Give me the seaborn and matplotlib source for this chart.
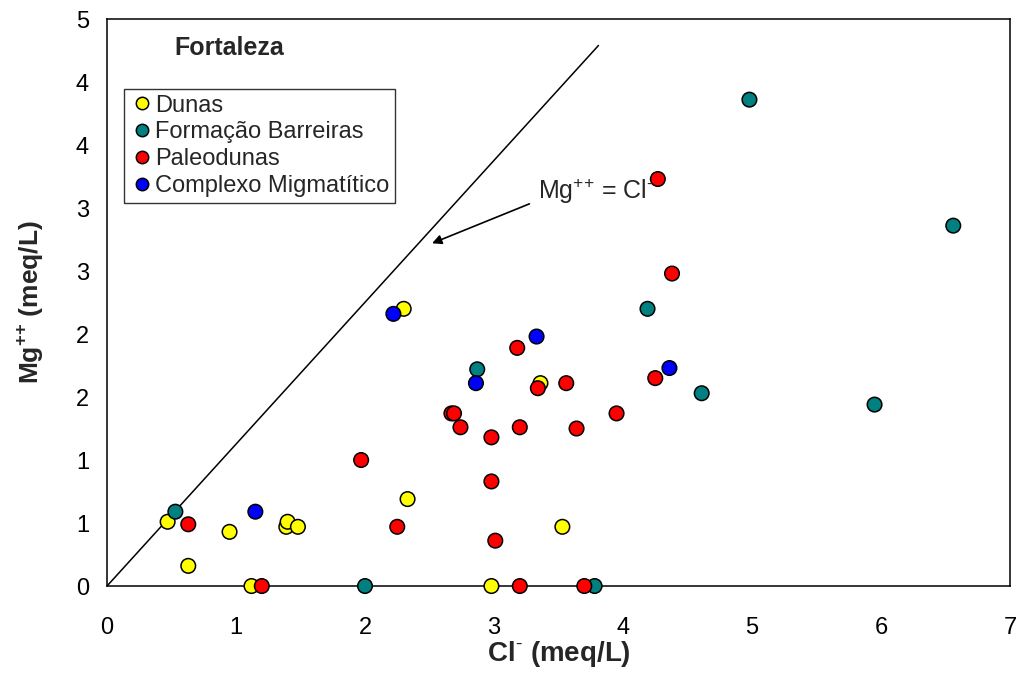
import pandas as pd
import matplotlib
matplotlib.use("Agg")
import matplotlib.pyplot as plt
import seaborn as sns

# values (Cl- vs Mg++, meq/L)
dunas_cl = [0.47, 0.63, 0.95, 1.12, 1.39, 1.40, 1.48, 2.30, 2.33, 2.98, 3.36, 3.53]
dunas_mg = [0.51, 0.16, 0.43, 0.0, 0.47, 0.51, 0.47, 2.20, 0.69, 0.0, 1.61, 0.47]

barreiras_cl = [0.53, 2.00, 2.87, 3.78, 4.19, 4.61, 4.98, 5.95, 6.56]
barreiras_mg = [0.59, 0.0, 1.72, 0.0, 2.20, 1.53, 3.86, 1.44, 2.86]

paleo_cl = [0.63, 1.20, 1.97, 2.25, 2.67, 2.69, 2.74, 2.98, 2.98, 3.01, 3.18, 3.20,
            3.20, 3.34, 3.56, 3.64, 3.70, 3.95, 4.25, 4.27, 4.38]
paleo_mg = [0.49, 0.0, 1.0, 0.47, 1.37, 1.37, 1.26, 1.18, 0.83, 0.36, 1.89, 1.26,
            0.0, 1.57, 1.61, 1.25, 0.0, 1.37, 1.65, 3.23, 2.48]

migma_cl = [1.15, 2.22, 2.86, 3.33, 4.36]
migma_mg = [0.59, 2.16, 1.61, 1.98, 1.73]

groups = ["Dunas", "Formação Barreiras", "Paleodunas", "Complexo Migmatítico"]
colors = ["#FFFF00", "#008080", "#FF0000", "#0000FF"]

y_ticks = [0, 0.5, 1, 1.5, 2, 2.5, 3, 3.5, 4, 4.5]
y_tick_labels = ["0", "1", "1", "2", "2", "3", "3", "4", "4", "5"]

# reference line drawn in the original
line_x = [0, 3.81]
line_y = [0, 4.29]

df = pd.concat([
    pd.DataFrame({"cl": dunas_cl, "mg": dunas_mg, "grupo": groups[0]}),
    pd.DataFrame({"cl": barreiras_cl, "mg": barreiras_mg, "grupo": groups[1]}),
    pd.DataFrame({"cl": paleo_cl, "mg": paleo_mg, "grupo": groups[2]}),
    pd.DataFrame({"cl": migma_cl, "mg": migma_mg, "grupo": groups[3]}),
], ignore_index=True)

sns.set_style("white")
plt.rcParams["font.family"] = ["Liberation Sans", "DejaVu Sans"]
plt.rcParams["mathtext.fontset"] = "custom"
plt.rcParams["mathtext.rm"] = "Liberation Sans"
plt.rcParams["mathtext.bf"] = "Liberation Sans:bold"

fig = plt.figure(figsize=(10.2, 6.96), dpi=100)
ax = fig.add_axes([0.1049, 0.158, 0.8853, 0.8147])

ax.plot(line_x, line_y, color="black", lw=1.1, zorder=1)

sns.scatterplot(data=df, x="cl", y="mg", hue="grupo", hue_order=groups,
                palette=colors, s=110, edgecolor="black", linewidth=1.1,
                ax=ax, zorder=3, clip_on=False)

ax.set_xlim(0, 7)
ax.set_ylim(0, 4.5)
ax.set_xticks(range(0, 8))
ax.set_yticks(y_ticks)
ax.set_yticklabels(y_tick_labels)
ax.tick_params(direction="in", length=8, width=1, labelsize=17, colors="black")
ax.tick_params(axis="y", pad=13)
ax.tick_params(axis="x", pad=22)

for sp in ax.spines.values():
    sp.set_color("black")
    sp.set_linewidth(1.1)

ax.set_xlabel(r"Cl$^{\text{-}}$ (meq/L)", fontsize=20, fontweight="bold", labelpad=0)
ax.set_ylabel(r"Mg$^{\mathbf{{+}{+}}}$ (meq/L)", fontsize=19, fontweight="bold", labelpad=22)

ax.text(0.95, 4.27, "Fortaleza", fontsize=18, fontweight="bold", ha="center", va="center")

ax.annotate(r"Mg$^{{+}{+}}$ = Cl$^{\text{-}}$", xy=(2.52, 2.72), xytext=(3.34, 3.13),
            fontsize=18, ha="left", va="center",
            arrowprops=dict(arrowstyle="-|>", color="black", lw=1.2,
                            mutation_scale=14, shrinkA=4, shrinkB=0,
                            relpos=(0.0, 0.2)))

handles, labels = ax.get_legend_handles_labels()
leg = ax.legend(handles, labels, loc="upper left", bbox_to_anchor=(0.0188, 0.877),
                fontsize=17, frameon=True, fancybox=False, borderpad=0.25,
                handletextpad=0.05, handlelength=1.0, labelspacing=0.2,
                borderaxespad=0, markerscale=0.85)
leg.get_frame().set_edgecolor("black")
leg.get_frame().set_linewidth(1.0)

fig.savefig("out.png", dpi=100)
